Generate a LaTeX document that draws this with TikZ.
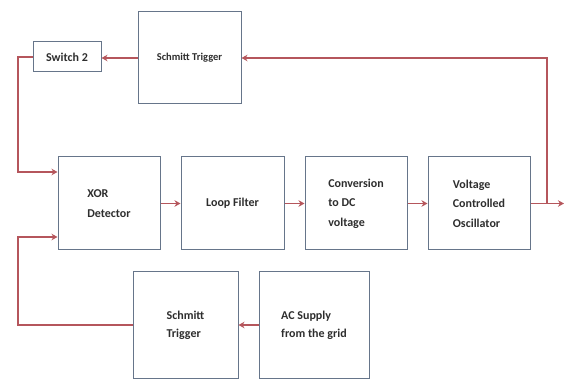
\documentclass[tikz,border=0pt]{standalone}
\usepackage{fontspec}
\setmainfont{Carlito}
\usepackage{tikz}
\usetikzlibrary{arrows.meta,positioning,calc}
\definecolor{Frame}{HTML}{66758A}
\definecolor{Wire}{HTML}{B5565C}
\definecolor{Ink}{HTML}{2E2E2E}
\tikzset{
  blk/.style={draw=Frame, line width=1pt, fill=white, align=left, text=Ink,
              minimum width=102pt, minimum height=93pt, inner sep=2pt,
              font=\bfseries\fontsize{12}{19.5}\selectfont},
  smallblk/.style={blk, minimum width=68pt, minimum height=30pt},
  wire/.style={draw=Wire, line width=1.7pt},
  arrow/.style={wire, -{Stealth[length=6pt,width=6.5pt]}},
}
\begin{document}
\begin{tikzpicture}[x=1pt, y=-1pt]
  \useasboundingbox (0,0) rectangle (565,379);
  % feedback path on top
  \node[blk, minimum width=103pt, minimum height=92pt, font=\bfseries\fontsize{10.5}{12}\selectfont] (trigA) at (189.5,58) {Schmitt Trigger};
  \node[smallblk] (sw) at (67,57) {Switch 2};
  % main loop
  \node[blk] (xor) at (109,203.5) {XOR\\Detector};
  \node[blk, right=20pt of xor, minimum width=103pt] (lf) {Loop Filter};
  \node[blk, right=20pt of lf] (conv) {Conversion\\to DC\\voltage};
  \node[blk, right=20pt of conv] (vco) {Voltage\\Controlled\\Oscillator};
  % reference from the grid
  \node[blk, minimum width=105pt, minimum height=106pt, font=\bfseries\fontsize{12}{18}\selectfont] (trigB) at (185.5,325) {Schmitt\\Trigger};
  \node[blk, right=20pt of trigB, minimum width=110pt, minimum height=106pt, font=\bfseries\fontsize{12}{18}\selectfont] (ac) {AC Supply\\from the grid};
  \coordinate (busL) at (18,0);
  \coordinate (busR) at (547,0);
  \coordinate (out) at (564,203.5);
  \coordinate (inA) at ([yshift=31.5pt]xor.west);
  \coordinate (inB) at ([yshift=-33.5pt]xor.west);
  \draw[arrow] (xor) -- (lf);
  \draw[arrow] (lf) -- (conv);
  \draw[arrow] (conv) -- (vco);
  \draw[arrow] (vco.east) -- (out);
  \draw[arrow] (vco.east -| busR) |- (trigA.east);
  \draw[arrow] (trigA.west) -- (trigA.west -| sw.east);
  \draw[arrow] (sw.west) -| (busL |- inA) -- (inA);
  \draw[arrow] (ac) -- (trigB);
  \draw[arrow] (trigB.west) -| (busL |- inB) -- (inB);
\end{tikzpicture}
\end{document}
